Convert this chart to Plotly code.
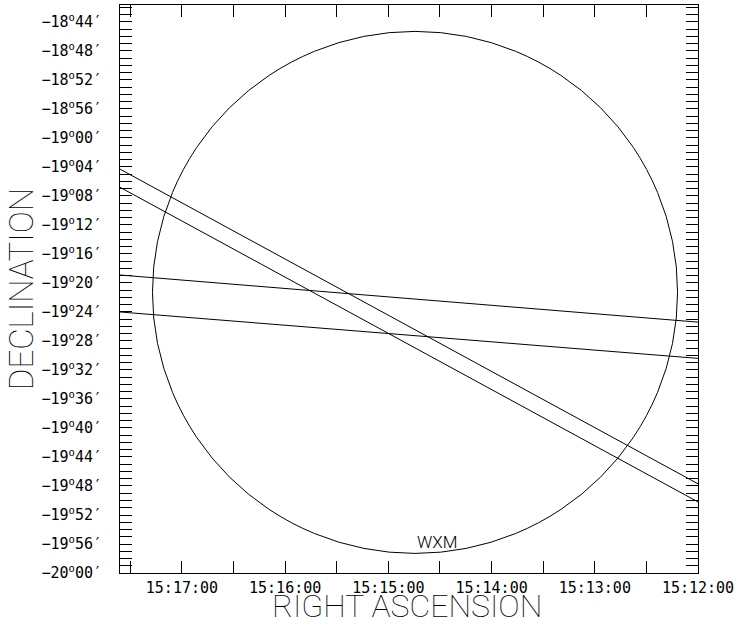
import math
import plotly.graph_objects as go

# Right ascension in seconds after 15h, declination in signed arcminutes
ra_tick_vals = [1020, 960, 900, 840, 780, 720]
ra_tick_text = ["15:17:00", "15:16:00", "15:15:00", "15:14:00", "15:13:00", "15:12:00"]

dec_tick_vals = [-1124, -1128, -1132, -1136, -1140, -1144, -1148, -1152, -1156, -1160,
                 -1164, -1168, -1172, -1176, -1180, -1184, -1188, -1192, -1196, -1200]
dec_tick_text = ["−18<sup>o</sup>44′", "−18<sup>o</sup>48′", "−18<sup>o</sup>52′", "−18<sup>o</sup>56′",
                 "−19<sup>o</sup>00′", "−19<sup>o</sup>04′", "−19<sup>o</sup>08′", "−19<sup>o</sup>12′",
                 "−19<sup>o</sup>16′", "−19<sup>o</sup>20′", "−19<sup>o</sup>24′", "−19<sup>o</sup>28′",
                 "−19<sup>o</sup>32′", "−19<sup>o</sup>36′", "−19<sup>o</sup>40′", "−19<sup>o</sup>44′",
                 "−19<sup>o</sup>48′", "−19<sup>o</sup>52′", "−19<sup>o</sup>56′", "−20<sup>o</sup>00′"]

# IPN annulus edges (two pairs of lines)
band_ra = [1056, 720]
band_a_upper = [-1144.3, -1187.7]
band_a_lower = [-1146.8, -1190.2]
band_b_upper = [-1158.9, -1165.4]
band_b_lower = [-1164.0, -1170.4]

# WXM error circle
wxm_ra = 884.5
wxm_dec = -1161.3
wxm_radius_arcmin = 36.0
wxm_label_ra = 871.9
wxm_label_dec = -1195.7

ra_range = [1056, 720]
dec_range = [-1200, -1121.66]

mono = "DejaVu Sans Mono"
thin = "Roboto"

fig = go.Figure()
for ys in (band_a_upper, band_a_lower, band_b_upper, band_b_lower):
    fig.add_trace(go.Scatter(x=band_ra, y=ys, mode="lines",
                             line=dict(color="black", width=1), showlegend=False,
                             hoverinfo="skip", cliponaxis=True))

# circle radius in RA seconds at the circle's declination
r_ra = wxm_radius_arcmin * 4.0 / math.cos(math.radians(abs(wxm_dec) / 60.0))
fig.add_shape(type="circle", xref="x", yref="y",
              x0=wxm_ra - r_ra, x1=wxm_ra + r_ra,
              y0=wxm_dec - wxm_radius_arcmin, y1=wxm_dec + wxm_radius_arcmin,
              line=dict(color="black", width=1))

fig.add_annotation(x=wxm_label_ra, y=wxm_label_dec, text="WXM", showarrow=False,
                   font=dict(family=thin, size=17, color="black", weight=300),
                   xanchor="center", yanchor="middle")

fig.add_annotation(xref="paper", yref="paper", x=0.4965, y=-0.058,
                   text="RIGHT ASCENSION", showarrow=False,
                   font=dict(family=thin, size=32, color="black", weight=100),
                   xanchor="center", yanchor="middle")
fig.add_annotation(xref="paper", yref="paper", x=-0.171, y=0.5,
                   text="DECLINATION", showarrow=False, textangle=-90,
                   font=dict(family=thin, size=33, color="black", weight=100),
                   xanchor="center", yanchor="middle")

axis_common = dict(showgrid=False, zeroline=False, showline=True, linecolor="black",
                   linewidth=1, mirror="ticks", ticks="inside", ticklen=12,
                   tickcolor="black", tickwidth=1,
                   tickfont=dict(family=mono, size=15, color="black"))

fig.update_xaxes(range=ra_range, tickmode="array", tickvals=ra_tick_vals,
                 ticktext=ra_tick_text, ticklabelstandoff=1,
                 minor=dict(dtick=30, tick0=720, ticks="inside", ticklen=12,
                            tickcolor="black", tickwidth=1, showgrid=False),
                 **axis_common)
fig.update_yaxes(range=dec_range, tickmode="array", tickvals=dec_tick_vals,
                 ticktext=dec_tick_text, ticklabelstandoff=14,
                 minor=dict(dtick=1, tick0=-1200, ticks="inside", ticklen=12,
                            tickcolor="black", tickwidth=1, showgrid=False),
                 **axis_common)

fig.update_layout(width=739, height=627, margin=dict(l=120, r=41, t=5, b=54),
                  plot_bgcolor="white", paper_bgcolor="white", showlegend=False)

fig.write_html("out.html")
